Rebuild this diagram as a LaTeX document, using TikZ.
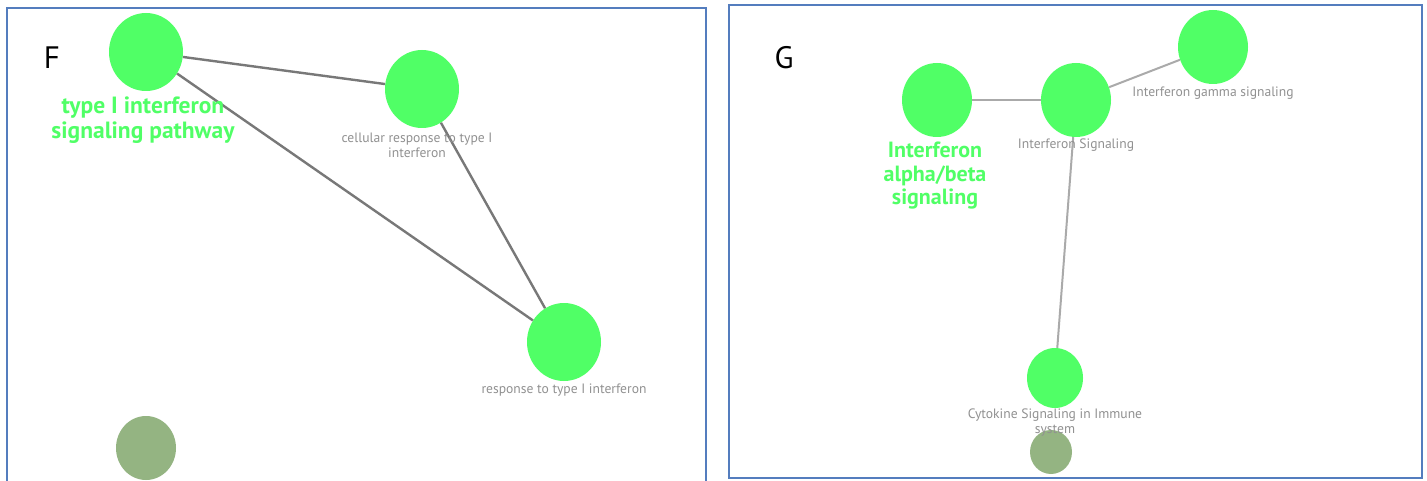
\documentclass[tikz,border=0pt]{standalone}
\usepackage{fontspec}
\setmainfont{PT Sans}
\usetikzlibrary{shapes.geometric}
\definecolor{nodegreen}{RGB}{80,255,102}
\definecolor{dimgreen}{RGB}{148,180,130}
\definecolor{labelgray}{RGB}{145,145,145}
\definecolor{frameblue}{RGB}{84,125,190}
\definecolor{edgedark}{RGB}{120,120,120}
\definecolor{edgelight}{RGB}{170,170,170}
\tikzset{
  term/.style={ellipse, fill=nodegreen, draw=none, inner sep=0pt},
  bigterm/.style={term, minimum width=74pt, minimum height=78pt},
  midterm/.style={term, minimum width=70pt, minimum height=74pt},
  smallterm/.style={term, minimum width=56pt, minimum height=60pt},
  fadedterm/.style={ellipse, fill=dimgreen, draw=none, inner sep=0pt},
  keyterm/.style={text=nodegreen, align=center, inner sep=0pt},
  minorterm/.style={text=labelgray, font=\fontsize{13.6}{15}\selectfont, align=center, inner sep=0pt},
  panelletter/.style={font=\fontsize{31}{31}\selectfont, inner sep=0pt},
  panelframe/.style={draw=frameblue, line width=1.6pt},
  linkF/.style={draw=edgedark, line width=2.4pt},
  linkG/.style={draw=edgelight, line width=2pt},
}
\begin{document}
\begin{tikzpicture}[x=1pt, y=-1pt]
\useasboundingbox (0,0) rectangle (1427,481);
\fill[white] (0,0) rectangle (1427,481);

% panel frames
\draw[panelframe] (7,490) -- (7,8) -- (706,8) -- (706,490);
\draw[panelframe] (729,5) rectangle (1422,478);

% ---------- panel F ----------
\node[panelletter] (letF) at (52,58) {F};
\node[bigterm] (f1) at (146,52) {};
\node[bigterm] (f2) at (422,89) {};
\node[bigterm] (f3) at (564,342) {};
\node[fadedterm, minimum width=60pt, minimum height=64pt] (f4) at (146,448) {};

\draw[linkF] (f1) -- (f2);
\draw[linkF] (f1) -- (f3);
\draw[linkF] (f2) -- (f3);

\node[keyterm, font=\fontsize{23.5}{25}\selectfont\bfseries] (f1lab) at (143,120) {type I interferon\\signaling pathway};
\node[minorterm] (f2lab) at (417,145) {cellular response to type I\\interferon};
\node[minorterm] (f3lab) at (564,390) {response to type I interferon};

% ---------- panel G ----------
\node[panelletter] (letG) at (784,58) {G};
\node[midterm] (g1) at (937,100) {};
\node[midterm] (g2) at (1076,100) {};
\node[midterm] (g3) at (1213,47) {};
\node[smallterm] (g4) at (1055,378) {};
\node[fadedterm, minimum width=42pt, minimum height=44pt] (g5) at (1051,452) {};

\draw[linkG] (g1) -- (g2);
\draw[linkG] (g2) -- (g3);
\draw[linkG] (g2) -- (g4);

\node[keyterm, font=\fontsize{22}{23.5}\selectfont\bfseries] (g1lab) at (935,176) {Interferon\\alpha/beta\\signaling};
\node[minorterm] (g2lab) at (1076,145) {Interferon Signaling};
\node[minorterm] (g3lab) at (1213,93) {Interferon gamma signaling};
\node[minorterm] (g4lab) at (1055,423) {Cytokine Signaling in Immune\\system};
\end{tikzpicture}
\end{document}
